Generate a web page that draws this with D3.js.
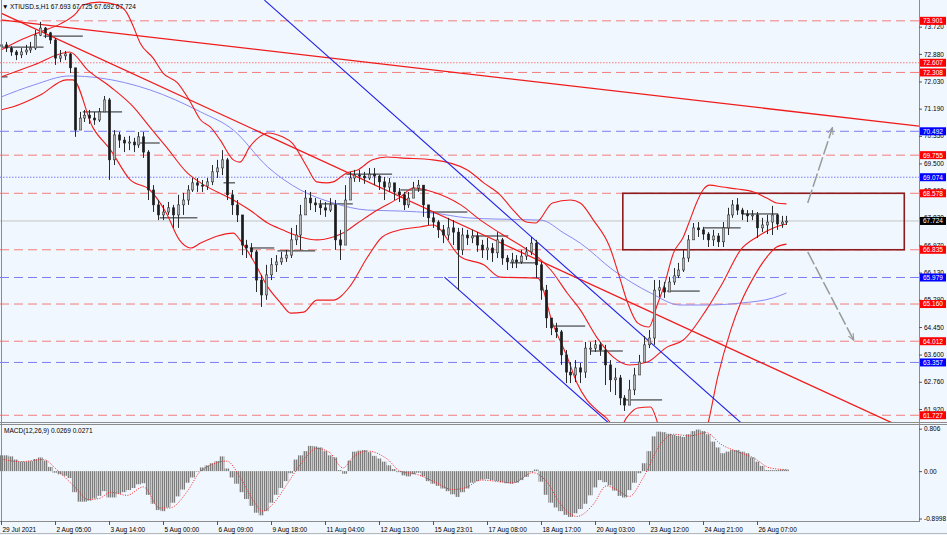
<!DOCTYPE html>
<html><head><meta charset="utf-8">
<script src="https://cdn.jsdelivr.net/npm/d3@7"></script>
<style>
html,body{margin:0;padding:0;background:#f0f7fe;}
svg{display:block;font-family:"Liberation Sans",Arial,sans-serif;}
</style></head><body>
<svg id="c" width="947" height="535"></svg>
<script>
// ---------- DATA ----------
// H1 candles sampled every 3 bars (bar index = i*3)
const closes=[73.16,73.06,72.94,72.85,72.94,73.00,73.06,73.46,73.68,73.53,
73.31,72.75,72.82,72.88,72.45,70.53,70.90,70.99,70.90,70.84,
71.09,71.46,69.61,70.38,70.22,70.13,70.16,70.07,70.32,69.85,
68.68,68.22,67.91,68.00,68.13,67.91,68.22,68.37,68.68,68.90,
68.83,68.80,68.93,69.24,69.36,69.61,68.53,68.22,67.91,66.98,
66.89,66.77,65.90,65.44,66.06,66.37,66.46,66.58,66.67,67.14,
67.29,67.91,68.43,68.28,68.22,68.13,68.06,68.22,67.14,66.98,
68.37,69.05,69.14,69.11,69.05,69.17,69.11,68.93,68.77,68.90,
68.62,68.53,68.22,68.43,68.74,68.83,68.22,67.82,67.69,67.45,
67.29,67.51,67.38,66.83,67.29,67.20,67.26,66.98,66.83,66.89,
66.74,67.14,66.58,66.46,66.52,66.46,66.64,66.77,67.04,66.37,
65.59,64.73,64.42,64.30,63.59,63.06,62.97,63.19,63.06,63.80,
63.80,63.90,63.74,63.28,62.82,62.88,62.26,62.04,62.51,62.97,
63.37,63.90,64.11,65.59,65.66,65.53,65.84,66.03,66.21,66.58,
67.14,67.51,67.45,67.32,67.14,67.26,67.08,67.51,67.91,68.22,
68.06,67.94,67.88,67.91,67.51,67.60,67.69,67.91,67.63,67.69,
67.72];
const highs=[73.37,73.25,73.12,73.00,73.06,73.16,73.25,73.62,73.87,73.71,
73.56,73.37,73.00,72.97,72.91,72.38,71.09,71.15,71.15,71.09,
71.21,71.58,71.52,70.53,70.47,70.32,70.35,70.29,70.47,70.47,
69.91,68.83,68.37,68.22,68.31,68.22,68.53,68.59,68.83,69.05,
69.05,68.99,69.05,69.45,69.61,69.91,69.67,68.68,68.37,67.91,
67.14,67.04,66.83,66.06,66.37,66.58,66.67,66.77,66.83,67.51,
67.60,68.22,68.68,68.62,68.43,68.37,68.31,68.43,68.37,67.45,
68.83,69.24,69.30,69.30,69.24,69.36,69.36,69.14,69.08,69.05,
68.83,68.74,68.62,68.62,68.93,68.99,68.83,68.13,68.00,67.75,
67.60,67.82,67.75,67.51,67.51,67.45,67.45,67.38,67.14,67.20,
67.04,67.38,67.20,66.67,66.74,66.67,66.83,66.92,67.23,67.14,
66.46,65.75,64.73,64.58,64.36,63.74,63.37,63.43,63.34,63.99,
63.99,64.05,63.99,63.90,63.43,63.19,62.97,62.35,62.82,63.19,
63.59,64.17,64.36,65.90,65.90,65.84,66.00,66.27,66.43,66.83,
67.29,67.66,67.69,67.54,67.38,67.45,67.35,67.69,68.13,68.37,
68.43,68.13,68.06,68.06,68.00,67.82,67.91,68.19,67.94,67.88,
67.88];
const lows=[73.00,72.94,72.82,72.69,72.75,72.85,72.91,73.00,73.43,73.37,
73.19,72.54,72.63,72.69,72.29,70.32,70.53,70.78,70.72,70.69,
70.78,71.09,68.99,69.45,69.98,69.85,69.91,69.85,69.98,69.67,
68.37,68.00,67.75,67.75,67.91,67.51,67.51,67.91,68.22,68.62,
68.62,68.62,68.68,68.83,69.05,69.14,68.37,67.91,67.69,66.67,
66.58,66.58,65.53,65.07,65.29,65.90,66.15,66.37,66.46,66.58,
66.98,66.83,67.91,68.06,68.00,67.91,67.85,68.00,66.83,66.52,
67.14,68.68,68.93,68.93,68.87,68.99,68.83,68.68,68.37,68.62,
68.37,68.31,68.06,68.13,68.43,68.62,67.85,67.60,67.51,67.20,
67.04,67.14,66.98,65.59,66.67,66.98,67.04,66.77,66.58,66.52,
66.46,66.58,66.37,66.21,66.27,66.27,66.40,66.52,66.67,65.96,
65.29,64.42,64.20,64.11,63.28,62.72,62.72,62.75,62.72,62.88,
63.59,63.68,63.56,62.66,62.45,62.35,62.04,61.86,62.04,62.35,
62.97,63.37,63.80,63.90,65.38,65.35,65.53,65.75,65.96,66.15,
66.46,67.14,67.23,67.14,66.92,66.95,66.92,66.92,67.29,67.82,
67.91,67.75,67.69,67.75,67.20,67.38,67.32,67.29,67.45,67.51,
67.60];
const firstOpen=73.12;
const barStep=3;

// MACD main (histogram), same sampling as candles
const macdHist=[0.30,0.30,0.28,0.22,0.18,0.18,0.19,0.23,0.26,0.20,
0.08,-0.03,-0.06,-0.09,-0.13,-0.40,-0.58,-0.58,-0.56,-0.52,
-0.47,-0.38,-0.50,-0.50,-0.43,-0.40,-0.36,-0.32,-0.25,-0.23,
-0.45,-0.62,-0.74,-0.76,-0.69,-0.60,-0.48,-0.35,-0.22,-0.12,
-0.01,0.07,0.11,0.15,0.19,0.28,0.05,-0.12,-0.24,-0.40,
-0.53,-0.66,-0.79,-0.84,-0.76,-0.60,-0.45,-0.32,-0.19,-0.04,
0.22,0.30,0.38,0.48,0.47,0.45,0.38,0.30,0.26,0.02,
-0.05,0.20,0.37,0.39,0.40,0.36,0.29,0.24,0.18,0.11,
0.04,-0.02,-0.08,-0.10,-0.06,-0.03,-0.10,-0.19,-0.24,-0.28,
-0.33,-0.38,-0.44,-0.49,-0.40,-0.33,-0.22,-0.19,-0.16,-0.15,
-0.17,-0.19,-0.21,-0.23,-0.24,-0.22,-0.17,-0.11,-0.02,0.03,
-0.20,-0.45,-0.60,-0.69,-0.76,-0.83,-0.87,-0.80,-0.72,-0.62,
-0.46,-0.31,-0.17,-0.21,-0.27,-0.37,-0.47,-0.50,-0.36,-0.22,
-0.04,0.15,0.38,0.66,0.75,0.74,0.71,0.69,0.67,0.65,
0.70,0.76,0.79,0.76,0.70,0.56,0.45,0.34,0.37,0.40,
0.40,0.37,0.34,0.26,0.18,0.10,0.02,0.02,0.02,0.03,
0.027];
// MACD signal [bar, value]
const macdSignal=[[0,0.23],[12,0.18],[26,0.22],[34,0.03],[46,-0.33],[53,-0.54],[60,-0.52],[67,-0.40],[77,-0.46],[87,-0.30],[97,-0.70],[103,-0.70],[114,-0.38],[122,0],[138,0.19],[146,-0.11],[154,-0.55],[160,-0.76],[166,-0.63],[175,-0.24],[183,0.13],[193,0.43],[201,0.35],[209,0.06],[215,0.26],[224,0.38],[236,0.23],[244,0],[254,-0.06],[264,-0.19],[276,-0.35],[285,-0.30],[293,-0.17],[313,-0.22],[325,-0.03],[334,-0.22],[342,-0.63],[352,-0.86],[362,-0.63],[370,-0.28],[376,-0.35],[384,-0.48],[392,-0.15],[403,0.51],[411,0.70],[421,0.67],[431,0.73],[440,0.51],[450,0.37],[460,0.25],[470,0.06],[481,0.027]];

// Bollinger bands [bar, price]
const bbUpper=[[0,73.00],[12,73.31],[24,73.56],[36,73.80],[46,74.14],[50,74.39],[60,74.48],[71,74.39],[77,74.14],[81,73.71],[85,73.22],[93,72.75],[99,72.29],[108,71.98],[115,71.46],[122,70.84],[128,70.62],[134,70.22],[142,69.61],[146,69.54],[152,70.01],[158,70.32],[163,70.44],[172,70.32],[178,70.13],[187,69.39],[193,68.93],[199,68.90],[203,68.93],[211,69.20],[218,69.30],[227,69.61],[236,69.70],[244,69.67],[264,69.61],[285,69.30],[295,68.90],[305,68.53],[313,68.06],[321,67.69],[327,67.66],[329,67.75],[337,68.28],[348,68.37],[354,68.28],[362,67.75],[372,66.92],[378,65.99],[383,65.19],[389,64.58],[396,64.45],[401,65.13],[405,65.69],[411,66.74],[417,67.23],[421,67.75],[425,68.28],[429,68.68],[433,68.83],[441,68.77],[450,68.71],[460,68.62],[468,68.43],[474,68.28],[480,68.25]];
const bbMiddle=[[0,72.17],[20,72.54],[42,72.94],[53,72.38],[67,71.86],[81,71.24],[91,70.62],[101,70.01],[114,69.20],[122,68.90],[142,68.37],[152,68.06],[163,67.66],[172,67.45],[183,67.23],[193,67.14],[203,67.23],[209,67.35],[218,67.66],[230,68.06],[244,68.46],[252,68.74],[264,68.62],[281,68.22],[293,67.75],[305,67.35],[319,66.92],[328,66.61],[336,66.21],[346,65.50],[354,64.98],[364,64.14],[374,63.53],[384,63.28],[395,63.37],[407,63.83],[417,64.05],[431,64.98],[441,65.81],[452,66.83],[462,67.23],[472,67.51],[480,67.63]];
const bbLower=[[0,71.15],[7,71.24],[24,71.61],[40,72.08],[44,72.08],[56,70.62],[67,69.91],[79,68.99],[91,68.68],[101,67.97],[109,67.14],[116,66.89],[122,67.04],[142,67.35],[146,67.14],[154,66.52],[163,65.69],[171,65.19],[177,64.88],[185,64.91],[193,65.28],[203,65.28],[213,65.69],[224,66.61],[233,67.23],[244,67.45],[256,67.54],[264,67.60],[281,66.61],[295,66.37],[305,65.99],[328,65.96],[337,64.58],[346,63.53],[352,62.72],[358,62.20],[364,61.89],[370,61.64],[377,61.27],[383,61.70],[389,61.95],[397,61.98],[402,61.40],[412,60.40],[422,60.30],[432,61.46],[438,62.91],[446,64.36],[452,65.19],[460,65.99],[468,66.61],[474,66.92],[480,67.01]];
// slow moving average (blue) [bar, price]
const maSlow=[[0,71.55],[20,71.92],[42,72.20],[60,72.14],[91,71.77],[122,71.09],[142,70.53],[163,69.39],[183,68.68],[203,68.28],[224,68.06],[244,68.03],[264,67.97],[285,67.82],[305,67.78],[330,67.75],[344,67.35],[354,67.04],[374,66.21],[397,65.50],[415,65.13],[431,65.13],[452,65.19],[472,65.35],[480,65.50]];

// trend lines [bar1, price1, bar2, price2]
const redTrendLines=[[0,73.93,561,70.65],[0,74.14,546,61.46]];
const blueTrendLines=[[161,74.54,453,61.46],[271,65.99,372,61.46]];
// projection arrows [bar1, price1, bar2, price2]
const arrows=[[493,68.28,508,70.59],[493,66.77,521,64.05]];
// range box [barFrom, barTo, priceLow, priceHigh]
const box=[380,552,66.835,68.578];
// daily open segments [barFrom, barTo, price]
const dayLines=[[0,4,72.17],[0,26,73.09],[26,50,73.43],[50,74,71.09],[85,97,70.13],[97,120,67.82],[136,143,68.90],[152,167,66.89],[169,192,66.80],[194,215,68.25],[211,239,69.17],[244,260,68.68],[260,285,68.00],[288,310,67.26],[311,328,66.43],[337,357,64.48],[360,380,63.71],[381,404,62.20],[407,427,65.56],[429,452,67.51],[453,475,67.94]];

// horizontal levels
const levelPrices=[73.901,72.607,72.308,70.492,69.755,69.074,68.578,66.835,65.979,65.160,64.012,63.357,61.727];
const levelKinds=['r','r','r','b','r','b','r','r','b','r','r','b','r'];
const levelDotted=[false,true,false,false,false,true,false,false,false,false,false,false,false];
const lastPrice=67.724;

const priceTicks=[73.720,72.880,72.030,71.190,70.350,69.500,68.660,67.820,66.970,66.130,65.290,64.450,63.600,62.760,61.920];
const macdTicks=[0.806,0,-0.8998];
const macdTickLabels=["0.806","0.00","-0.8998"];
const timeBars=[0,33,66,99,132,165,198,231,264,297,330,363,396,429,462];
const timeLabels=["29 Jul 2021","2 Aug 05:00","3 Aug 14:00","5 Aug 00:00","6 Aug 09:00","9 Aug 18:00","11 Aug 04:00","12 Aug 13:00","15 Aug 23:01","17 Aug 08:00","18 Aug 17:00","20 Aug 03:00","23 Aug 12:00","24 Aug 21:00","26 Aug 07:00"];
const headerText="XTIUSD.s,H1  67.693 67.725 67.692 67.724";
const macdText="MACD(12,26,9) 0.0269 0.0271";

// ---------- LAYOUT ----------
const W=947,H=535,plotR=919,mainBot=422,macdTop=424,macdBot=521;
const svg=d3.select('#c');
const x=d3.scaleLinear().domain([0,561]).range([1,919]);
const y=d3.scaleLinear().domain([61.92,73.72]).range([409,26.7]);
const ym=d3.scaleLinear().domain([-0.8998,0.806]).range([518.5,428.7]);
const bw=x(1)-x(0);

svg.append('rect').attr('width',W).attr('height',H).attr('fill','#f0f7fe');
const defs=svg.append('defs');
defs.append('clipPath').attr('id','mainClip').append('rect').attr('x',0).attr('y',0).attr('width',plotR).attr('height',mainBot);
defs.append('clipPath').attr('id','macdClip').append('rect').attr('x',0).attr('y',macdTop+1).attr('width',plotR).attr('height',macdBot-macdTop-1);
const pat=defs.append('pattern').attr('id','hatch').attr('patternUnits','userSpaceOnUse').attr('width',2).attr('height',4);
pat.append('rect').attr('width',1).attr('height',4).attr('fill','#7d7d7d');
pat.append('rect').attr('x',1).attr('width',1).attr('height',4).attr('fill','#c9c9c9');
defs.append('marker').attr('id','arr').attr('viewBox','0 0 10 10').attr('refX',9).attr('refY',5)
  .attr('markerWidth',7).attr('markerHeight',7).attr('orient','auto-start-reverse').attr('markerUnits','userSpaceOnUse')
  .append('path').attr('d','M0,1 L10,5 L0,9').attr('fill','none').attr('stroke','#9a9a9a').attr('stroke-width',1.5);

const main=svg.append('g').attr('clip-path','url(#mainClip)');

// levels
levelPrices.forEach((p,i)=>{
  main.append('line').attr('x1',0).attr('x2',plotR).attr('y1',y(p)).attr('y2',y(p))
    .attr('stroke',levelKinds[i]==='r'?'#f47c7c':'#7c7cf4').attr('stroke-width',1)
    .attr('stroke-dasharray',levelDotted[i]?'1.5,1.5':'9,5');
});
main.append('line').attr('x1',0).attr('x2',plotR).attr('y1',y(lastPrice)).attr('y2',y(lastPrice))
  .attr('stroke','#c4c4c4').attr('stroke-width',1);

// day open segments
main.selectAll('.day').data(dayLines).enter().append('line')
  .attr('x1',d=>x(d[0])).attr('x2',d=>x(d[1])).attr('y1',d=>y(d[2])).attr('y2',d=>y(d[2]))
  .attr('stroke','#222').attr('stroke-width',1);

// box
main.append('rect').attr('x',x(box[0])).attr('y',y(box[3])).attr('width',x(box[1])-x(box[0])).attr('height',y(box[2])-y(box[3]))
  .attr('fill','none').attr('stroke','#8e1b1b').attr('stroke-width',1.6);

// curves
const ln=d3.line().x(d=>x(d[0])).y(d=>y(d[1])).curve(d3.curveMonotoneX);
main.append('path').attr('d',ln(maSlow)).attr('fill','none').attr('stroke','#8a8af2').attr('stroke-width',1);
[bbUpper,bbMiddle,bbLower].forEach(a=>{
  main.append('path').attr('d',ln(a)).attr('fill','none').attr('stroke','#f21c1c').attr('stroke-width',1.1);
});

// trend lines
redTrendLines.forEach(t=>{
  main.append('line').attr('x1',x(t[0])).attr('y1',y(t[1])).attr('x2',x(t[2])).attr('y2',y(t[3]))
    .attr('stroke','#f01c1c').attr('stroke-width',1.3);
});
blueTrendLines.forEach(t=>{
  main.append('line').attr('x1',x(t[0])).attr('y1',y(t[1])).attr('x2',x(t[2])).attr('y2',y(t[3]))
    .attr('stroke','#2020e8').attr('stroke-width',1.1);
});

// candles
const candles=closes.map((c,i)=>{
  const o=i===0?firstOpen:closes[i-1];
  return {bar:i*barStep,o:o,c:c,h:Math.max(highs[i],o,c),l:Math.min(lows[i],o,c)};
});
const cg=main.append('g');
cg.selectAll('.wick').data(candles).enter().append('line')
  .attr('x1',d=>Math.round(x(d.bar))+0.5).attr('x2',d=>Math.round(x(d.bar))+0.5)
  .attr('y1',d=>y(d.h)).attr('y2',d=>y(d.l)).attr('stroke','#2a2a2a').attr('stroke-width',1);
cg.selectAll('.body').data(candles).enter().append('rect')
  .attr('x',d=>Math.round(x(d.bar))-0.75).attr('width',2.5)
  .attr('y',d=>y(Math.max(d.o,d.c))).attr('height',d=>Math.max(1,Math.abs(y(d.o)-y(d.c))))
  .attr('fill',d=>d.c>=d.o?'#b4b4b4':'#1a1a1a').attr('stroke','#2a2a2a').attr('stroke-width',0.5);

// arrows
arrows.forEach(a=>{
  main.append('line').attr('x1',x(a[0])).attr('y1',y(a[1])).attr('x2',x(a[2])).attr('y2',y(a[3]))
    .attr('stroke','#9a9a9a').attr('stroke-width',1.5).attr('stroke-dasharray','14,3').attr('marker-end','url(#arr)');
});

// header
svg.append('text').attr('x',2).attr('y',8.5).attr('font-size',6.5).attr('fill','#000').text('\u25BC');
svg.append('text').attr('x',10).attr('y',8.5).attr('font-size',6.5).attr('fill','#000').text(headerText);

// ---------- MACD ----------
const mg=svg.append('g').attr('clip-path','url(#macdClip)');
mg.selectAll('.h').data(macdHist).enter().append('rect')
  .attr('x',(d,i)=>x(i*barStep-1.5)).attr('width',bw*barStep)
  .attr('y',d=>Math.min(ym(d),ym(0))).attr('height',d=>Math.abs(ym(d)-ym(0)))
  .attr('fill','url(#hatch)');
mg.append('path').attr('d',d3.line().x(d=>x(d[0])).y(d=>ym(d[1])).curve(d3.curveMonotoneX)(macdSignal))
  .attr('fill','none').attr('stroke','#ff2020').attr('stroke-width',1).attr('stroke-dasharray','1,1.5');
svg.append('text').attr('x',4).attr('y',433).attr('font-size',6.5).attr('fill','#000').text(macdText);

// ---------- FRAMES ----------
const frame=svg.append('g').attr('stroke','#8c8c8c').attr('fill','none');
frame.append('line').attr('x1',0).attr('x2',W).attr('y1',mainBot+0.5).attr('y2',mainBot+0.5);
frame.append('line').attr('x1',0).attr('x2',W).attr('y1',macdTop+0.5).attr('y2',macdTop+0.5);
frame.append('line').attr('x1',0).attr('x2',plotR).attr('y1',macdBot+0.5).attr('y2',macdBot+0.5);
frame.append('line').attr('x1',plotR+0.5).attr('x2',plotR+0.5).attr('y1',0).attr('y2',macdBot+1);
frame.append('line').attr('x1',1.5).attr('x2',1.5).attr('y1',0).attr('y2',macdBot+1);
svg.append('line').attr('x1',0).attr('x2',W).attr('y1',533.5).attr('y2',533.5).attr('stroke','#b8b8b8');

// ---------- AXES ----------
const ay=svg.append('g').attr('transform',`translate(${plotR},0)`)
  .call(d3.axisRight(y).tickValues(priceTicks).tickFormat(d3.format('.3f')).tickSize(3).tickPadding(2));
ay.select('.domain').remove();
ay.selectAll('text').attr('font-size',6.5).attr('fill','#000').attr('font-family','Liberation Sans, Arial, sans-serif');
ay.selectAll('line').attr('stroke','#555');

const am=svg.append('g').attr('transform',`translate(${plotR},0)`)
  .call(d3.axisRight(ym).tickValues(macdTicks).tickFormat((d,i)=>macdTickLabels[i]).tickSize(3).tickPadding(2));
am.select('.domain').remove();
am.selectAll('text').attr('font-size',6.5).attr('fill','#000').attr('font-family','Liberation Sans, Arial, sans-serif');
am.selectAll('line').attr('stroke','#555');

const ax=svg.append('g').attr('transform',`translate(0,${macdBot})`)
  .call(d3.axisBottom(x).tickValues(timeBars).tickFormat((d,i)=>timeLabels[i]).tickSize(4).tickPadding(2));
ax.select('.domain').remove();
ax.selectAll('text').attr('font-size',6.5).attr('fill','#000').attr('text-anchor','start').attr('dx',1).attr('font-family','Liberation Sans, Arial, sans-serif');
ax.selectAll('line').attr('stroke','#555');

// level labels on the price axis
const lab=svg.append('g');
levelPrices.forEach((p,i)=>{
  const yy=y(p);
  lab.append('rect').attr('x',plotR+1).attr('y',yy-4).attr('width',26).attr('height',8)
    .attr('fill',levelKinds[i]==='r'?'#ff0000':'#0000ff');
  lab.append('text').attr('x',plotR+4).attr('y',yy+2.4).attr('font-size',6.5).attr('fill','#fff').text(p.toFixed(3));
});
lab.append('rect').attr('x',plotR+1).attr('y',y(lastPrice)-4).attr('width',26).attr('height',8).attr('fill','#000');
lab.append('text').attr('x',plotR+4).attr('y',y(lastPrice)+2.4).attr('font-size',6.5).attr('fill','#fff').text(lastPrice.toFixed(3));
</script>
</body></html>
